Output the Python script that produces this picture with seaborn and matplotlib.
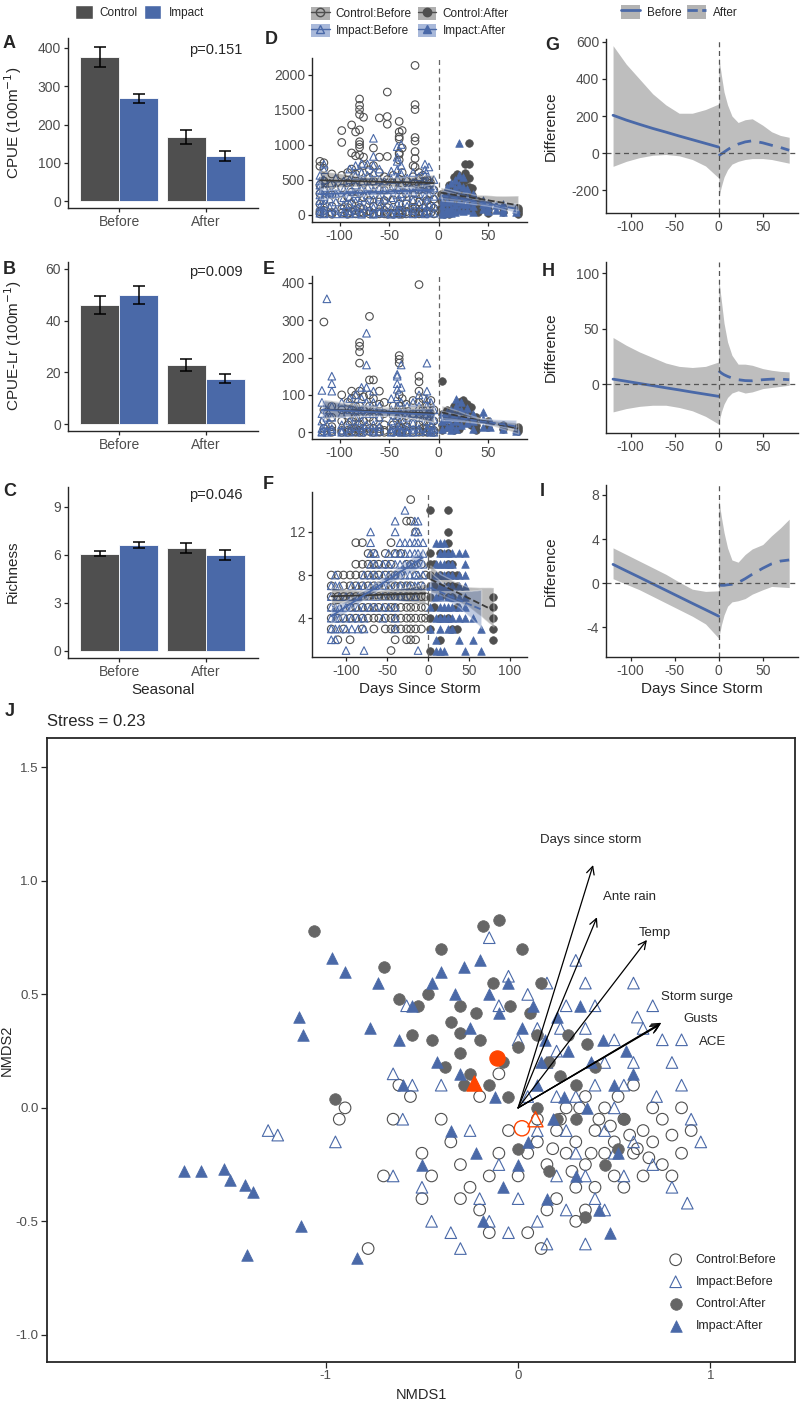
import pandas as pd
import seaborn as sns
import matplotlib.pyplot as plt
from matplotlib.patches import Patch
from matplotlib.lines import Line2D

sns.set_style("ticks")
plt.rcParams['font.family'] = ['Liberation Sans', 'DejaVu Sans']
plt.rcParams['axes.unicode_minus'] = False

GREY = '#4f4f4f'
BLUE = '#4a69a8'
TICK = '#4d4d4d'

# ---- bar panels (A-C): means and standard errors ----
periods = ['Before', 'After']
sites = ['Control', 'Impact']
cpue_mean = {'Control': [376, 168], 'Impact': [268, 118]}
cpue_se = {'Control': [26, 19], 'Impact': [13, 14]}
lr_mean = {'Control': [46, 22.8], 'Impact': [50, 17.6]}
lr_se = {'Control': [3.6, 2.3], 'Impact': [3.4, 1.8]}
rich_mean = {'Control': [6.07, 6.42], 'Impact': [6.63, 5.98]}
rich_se = {'Control': [0.15, 0.31], 'Impact': [0.2, 0.3]}

# ---- scatter panels (D-F): day since storm -> values ----
cb_cpue = {-120: [760, 690, 420, 300, 150, 40, 10], -116: [740, 660, 480, 350, 200, 60, 20],
           -108: [580, 420, 280, 120, 30, 5], -98: [1200, 1030, 560, 380, 200, 80, 20],
           -92: [600, 450, 250, 100, 20, 5], -88: [1280, 880, 650, 320, 150, 40],
           -84: [1180, 840, 580, 400, 220, 60, 10],
           -80: [1650, 1560, 1500, 1430, 1210, 1040, 1000, 960, 850, 600, 300, 100, 30],
           -76: [1390, 820, 700, 450, 250, 80, 20], -70: [640, 520, 380, 200, 50, 10],
           -66: [950, 700, 480, 280, 120, 10], -60: [1380, 820, 600, 350, 180, 40, 10],
           -55: [540, 350, 200, 60, 10], -52: [1750, 1400, 1290, 830, 500, 260, 100, 30, 5],
           -46: [560, 400, 210, 20, 5],
           -40: [1330, 1180, 1110, 1080, 880, 860, 780, 500, 350, 150, 60, 20, 5],
           -37: [1200, 950, 600, 420, 250, 60, 20, 5], -33: [480, 300, 150, 40, 10],
           -26: [700, 540, 380, 210, 80, 20],
           -24: [2130, 1570, 1500, 1100, 1050, 900, 800, 680, 450, 300, 100, 40, 10],
           -20: [600, 520, 350, 180, 40, 10], -16: [560, 420, 260, 90, 20],
           -12: [500, 380, 200, 50, 10], -8: [450, 300, 120, 30], -5: [350, 220, 90, 10]}
ib_cpue = {-120: [560, 480, 420, 350, 280, 200, 120, 60, 20], -116: [720, 640, 500, 380, 260, 150, 50, 10],
           -110: [450, 320, 220, 100, 20], -104: [520, 400, 300, 180, 60, 10],
           -96: [480, 360, 240, 140, 40, 10], -90: [650, 500, 380, 260, 150, 50, 10],
           -84: [700, 560, 420, 300, 180, 60, 20], -78: [730, 600, 480, 360, 240, 120, 20, 5],
           -72: [720, 560, 400, 280, 150, 40], -66: [1090, 830, 700, 600, 480, 350, 220, 100, 20, 5],
           -60: [650, 500, 380, 250, 120, 30], -55: [480, 350, 220, 100, 20],
           -48: [620, 500, 360, 240, 100, 20, 5], -42: [970, 820, 760, 640, 520, 400, 280, 150, 40, 10],
           -38: [1000, 700, 580, 440, 300, 160, 40], -32: [520, 380, 260, 120, 20],
           -26: [600, 460, 320, 200, 60, 10], -20: [540, 420, 300, 150, 30],
           -14: [720, 640, 560, 480, 380, 260, 140, 40, 10], -10: [680, 520, 400, 280, 150, 30],
           -5: [500, 380, 260, 120, 20]}
ca_cpue = {2: [300, 200, 100, 20], 5: [280, 150, 60, 10], 10: [420, 350, 200, 80, 10],
           15: [530, 400, 300, 150, 50], 18: [580, 480, 350, 200, 60], 22: [520, 420, 300, 200, 100],
           26: [720, 600, 500, 380, 250, 80], 30: [1020, 720, 520, 400, 250, 120],
           33: [380, 280, 180, 80], 40: [200, 120, 40], 50: [150, 80, 20], 65: [100, 40],
           80: [90, 60, 30, 10]}
ia_cpue = {3: [280, 200, 120, 50, 10], 8: [400, 300, 180, 80, 20], 12: [450, 320, 200, 100, 20],
           16: [500, 380, 260, 140, 40], 20: [1020, 560, 420, 300, 180, 60], 24: [540, 400, 280, 150, 50],
           28: [360, 250, 150, 60], 35: [300, 200, 120, 30], 45: [210, 150, 80], 50: [170, 110, 50],
           58: [130, 70], 65: [145, 80, 30], 78: [75, 40]}

cb_lr = {-116: [295, 60, 30, 10, 2], -108: [70, 40, 15, 5, 0], -98: [100, 60, 30, 5, 0],
         -92: [80, 45, 20, 5, 0], -88: [110, 90, 60, 30, 10, 2], -84: [100, 70, 40, 10, 2, 0],
         -80: [240, 230, 215, 185, 110, 70, 40, 20, 5, 0], -76: [95, 60, 30, 10, 0],
         -70: [310, 140, 100, 70, 40, 10, 2], -66: [140, 90, 60, 30, 10, 0],
         -60: [110, 75, 40, 10, 2, 0], -55: [80, 50, 20, 5, 0], -46: [70, 45, 20, 5, 0],
         -40: [205, 195, 185, 100, 70, 40, 15, 5, 0], -37: [90, 60, 30, 10, 2, 0],
         -33: [75, 45, 15, 5, 0], -26: [85, 50, 25, 5, 0],
         -20: [395, 150, 135, 110, 80, 50, 20, 5, 0], -16: [90, 60, 30, 10, 0],
         -12: [70, 40, 10, 2, 0], -8: [85, 50, 20, 5], -5: [60, 30, 5, 0]}
ib_lr = {-118: [112, 80, 50, 30, 10, 2, 0], -113: [357, 60, 40, 20, 5, 0],
         -108: [150, 130, 110, 70, 40, 10, 2], -98: [80, 50, 20, 5, 0], -90: [90, 60, 30, 10, 0],
         -84: [100, 70, 40, 15, 3], -78: [120, 90, 60, 30, 10, 0],
         -73: [265, 180, 120, 80, 50, 20, 5], -66: [110, 80, 50, 20, 5, 0], -60: [70, 40, 15, 3],
         -48: [90, 60, 30, 10, 2, 0], -42: [155, 150, 130, 115, 95, 70, 45, 20, 8, 2],
         -38: [180, 120, 80, 50, 20, 5, 0], -32: [70, 40, 15, 3, 0], -26: [80, 50, 25, 8, 0],
         -20: [100, 70, 40, 10, 2], -12: [185, 110, 90, 70, 50, 30, 10, 3],
         -8: [80, 50, 20, 5, 0], -5: [60, 35, 10, 0]}
ca_lr = {3: [137, 50, 20, 5], 8: [60, 40, 15], 15: [70, 45, 20, 5], 20: [80, 60, 35, 10],
         24: [85, 70, 50, 25], 28: [75, 55, 30], 32: [67, 45, 20], 38: [40, 20, 5],
         50: [30, 15], 65: [20, 8], 80: [15, 8, 3]}
ia_lr = {3: [50, 30, 10], 8: [55, 35, 15], 12: [60, 40, 20, 5], 17: [90, 70, 50, 30, 10],
         22: [80, 60, 40, 20], 28: [65, 45, 25], 35: [50, 30, 10], 45: [55, 35, 15],
         52: [30, 15], 65: [20, 8], 78: [10, 4]}

cb_rich = {-118: [8, 7, 6, 5, 4, 3], -110: [8, 6, 5, 4, 2], -103: [8, 7, 6, 4, 3],
           -95: [8, 7, 6, 5, 4, 2], -88: [11, 9, 8, 7, 6, 5, 4], -80: [11, 9, 8, 7, 6, 5, 4, 3],
           -73: [10, 9, 8, 7, 6, 5, 4], -66: [10, 9, 8, 7, 6, 5, 4, 3], -60: [9, 8, 7, 6, 5, 4],
           -52: [10, 9, 8, 7, 6, 5, 4, 3], -45: [11, 9, 8, 7, 6, 5, 4, 3, 1],
           -40: [10, 8, 7, 6, 5, 4, 3, 2], -33: [10, 8, 7, 6, 5, 4, 3],
           -26: [13, 9, 7, 6, 5, 4, 3, 2], -21: [15, 13, 9, 7, 6, 5, 4, 3, 2],
           -15: [12, 8, 6, 5, 4, 3, 2], -8: [9, 7, 6, 5, 4, 3], -3: [8, 6, 5, 4]}
ib_rich = {-118: [7, 6, 5, 4, 3, 2], -113: [8, 7, 5, 4, 3, 2], -108: [7, 6, 5, 4, 3],
           -100: [6, 5, 4, 3, 1], -93: [7, 6, 5, 4, 3], -85: [7, 6, 5, 4, 3],
           -78: [8, 7, 6, 5, 4, 3, 1], -70: [12, 11, 10, 9, 8, 7, 6, 5], -64: [10, 9, 8, 7, 6, 5],
           -55: [9, 8, 7, 6, 5, 4], -48: [10, 9, 8, 7, 6, 5], -40: [13, 12, 10, 9, 8, 7, 6, 5, 4, 3],
           -34: [11, 10, 9, 8, 7, 6], -28: [14, 11, 10, 9, 8, 7, 6], -22: [11, 10, 9, 8, 7],
           -16: [13, 12, 11, 10, 9, 8, 7, 6], -12: [13, 12, 11, 10, 9, 8, 7, 1],
           -6: [11, 10, 9, 8, 7]}
ca_rich = {3: [14, 10, 9, 8, 7, 6, 4, 3, 1], 8: [9, 7, 5], 15: [10, 8, 6, 4, 2],
           25: [14, 12, 11, 10, 9, 8, 7, 6, 4], 30: [9, 8, 7, 6, 3], 35: [8, 7, 5, 3],
           80: [6, 5, 4, 3, 2]}
ia_rich = {3: [7, 5, 3], 10: [11, 9, 8, 6, 4, 2, 1], 15: [11, 10, 9, 8, 7, 6, 5, 4, 3, 1],
           20: [11, 10, 9, 8, 7, 5, 4, 1], 25: [10, 9, 8, 7, 6, 5, 4, 3],
           30: [10, 9, 8, 7, 6, 5, 4, 3], 38: [10, 8, 7, 6, 5, 4, 2],
           45: [10, 9, 8, 7, 6, 5, 4, 1], 55: [4, 2], 65: [3, 1]}

# ---- difference panels (G-I): fitted difference with confidence band ----
bef_days = [-120, -105, -90, -75, -60, -45, -30, -15, 0]
aft_days = [0, 3, 6, 10, 15, 22, 30, 38, 50, 60, 70, 80]
g_bef_fit = [204, 178, 155, 133, 113, 92, 72, 52, 32]
g_bef_lo = [-72, -45, -25, -12, -8, -15, -35, -70, -135]
g_bef_hi = [580, 480, 400, 320, 260, 215, 215, 235, 265]
g_aft_fit = [-15, -5, 5, 18, 33, 48, 60, 66, 55, 42, 30, 15]
g_aft_lo = [-240, -180, -130, -90, -60, -45, -35, -30, -30, -35, -45, -55]
g_aft_hi = [520, 420, 330, 260, 200, 165, 180, 185, 150, 115, 95, 85]
h_bef_fit = [4.5, 2.6, 0.6, -1.3, -3.3, -5.2, -7.2, -9.1, -11]
h_bef_lo = [-25, -22, -20, -19, -19, -21, -24, -29, -36]
h_bef_hi = [42, 35, 29, 24, 19, 16, 15, 16, 20]
h_aft_fit = [12, 10, 8.5, 7, 5.5, 4, 3.2, 3, 4, 4.5, 4.5, 4]
h_aft_lo = [-35, -25, -18, -12, -8, -6, -8, -7, -4, -3, -2, -1]
h_aft_hi = [95, 75, 55, 38, 26, 18, 18, 17, 14, 12.5, 11.5, 11]
i_bef_fit = [1.7, 1.11, 0.53, -0.06, -0.65, -1.24, -1.83, -2.41, -3.0]
i_bef_lo = [0.4, -0.1, -0.6, -1.2, -1.8, -2.4, -3.0, -3.7, -5.0]
i_bef_hi = [3.2, 2.6, 2.0, 1.4, 0.8, 0.1, -0.55, -0.75, -0.7]
i_aft_fit = [-0.15, -0.2, -0.2, -0.15, -0.1, 0.05, 0.4, 0.8, 1.35, 1.75, 2.0, 2.1]
i_aft_lo = [-5.0, -3.8, -2.9, -2.1, -1.7, -1.6, -1.4, -1.0, -0.6, -0.3, -0.35, -0.4]
i_aft_hi = [7.6, 6.0, 4.6, 3.2, 2.1, 1.9, 2.6, 3.1, 3.5, 4.3, 5.0, 5.8]

# ---- NMDS (J) ----
cb_j = [(-0.93, -0.05), (-0.9, 0.0), (-0.78, -0.62), (-0.62, 0.1), (-0.56, 0.05), (-0.5, -0.2),
        (-0.45, -0.3), (-0.5, -0.4), (-0.35, -0.15), (-0.4, -0.05), (-0.3, -0.25), (-0.25, -0.35),
        (-0.2, -0.45), (-0.15, -0.3), (-0.1, -0.2), (-0.05, -0.1), (0.0, -0.3), (0.05, -0.2),
        (0.1, -0.15), (0.15, -0.25), (0.2, -0.1), (0.25, -0.2), (0.3, -0.15), (0.35, -0.25),
        (0.4, -0.1), (0.45, -0.2), (0.5, -0.15), (0.55, -0.05), (0.6, -0.2), (0.65, -0.1),
        (0.7, -0.15), (0.75, -0.05), (0.8, -0.12), (0.85, -0.2), (0.9, -0.1), (0.3, -0.35),
        (0.2, -0.4), (0.4, -0.35), (0.1, -0.05), (0.25, 0.0), (0.35, 0.05), (0.45, 0.0),
        (0.5, -0.3), (0.15, -0.45), (0.05, -0.55), (0.3, -0.5), (-0.2, 0.05), (-0.1, 0.15),
        (0.6, 0.1), (0.55, -0.35), (0.65, -0.3), (0.7, 0.0), (0.75, -0.25), (0.8, -0.3),
        (0.62, -0.18), (0.48, -0.08), (0.38, -0.2), (0.28, -0.28), (0.22, -0.05), (0.42, -0.05),
        (0.18, -0.18), (-0.3, -0.4), (-0.15, -0.55), (0.12, -0.62), (0.35, -0.45), (0.58, -0.12),
        (0.32, 0.0), (-0.65, -0.05), (-0.7, -0.3), (0.68, -0.22), (0.52, 0.05), (0.85, 0.0)]
ib_j = [(-1.3, -0.1), (-1.25, -0.12), (-0.95, -0.15), (-0.65, -0.3), (-0.6, -0.05), (-0.55, 0.1),
        (-0.5, -0.35), (-0.45, -0.5), (-0.35, -0.55), (-0.3, -0.62), (-0.2, -0.4), (-0.15, -0.5),
        (-0.05, -0.55), (0.0, -0.4), (0.1, -0.5), (0.15, -0.6), (0.2, -0.3), (0.25, -0.45),
        (0.3, -0.2), (0.35, -0.3), (0.4, -0.4), (0.45, -0.1), (0.5, 0.0), (0.55, 0.1), (0.6, 0.2),
        (0.65, 0.35), (0.7, 0.45), (0.75, 0.3), (0.8, 0.2), (0.85, 0.1), (0.9, -0.05),
        (0.95, -0.15), (0.5, 0.3), (0.45, 0.2), (0.4, 0.45), (0.35, 0.55), (0.3, 0.65),
        (0.35, 0.35), (0.25, 0.45), (0.2, 0.25), (0.1, 0.35), (0.0, 0.3), (-0.1, 0.45),
        (-0.15, 0.75), (-0.05, 0.58), (0.05, 0.5), (0.15, 0.2), (0.2, 0.05), (0.1, -0.1),
        (0.3, 0.05), (0.4, 0.1), (0.5, -0.2), (0.6, -0.15), (0.55, -0.3), (0.45, -0.45),
        (0.35, -0.6), (-0.1, -0.25), (-0.25, -0.1), (-0.4, 0.1), (0.05, 0.05), (0.25, -0.1),
        (0.62, 0.4), (0.72, 0.05), (0.8, -0.35), (0.88, -0.42), (0.7, -0.25), (0.85, 0.3),
        (0.6, 0.55), (0.22, 0.35), (0.15, 0.55), (-0.65, 0.15), (-0.58, 0.45)]
ca_j = [(-1.06, 0.78), (-0.95, 0.04), (-0.7, 0.62), (-0.62, 0.48), (-0.55, 0.32), (-0.47, 0.5),
        (-0.4, 0.7), (-0.35, 0.38), (-0.3, 0.33), (-0.18, 0.8), (-0.13, 0.55), (-0.1, 0.83),
        (-0.04, 0.45), (0.02, 0.7), (0.06, 0.42), (-0.3, 0.24), (-0.25, 0.15), (-0.38, 0.18),
        (-0.45, 0.3), (-0.2, 0.3), (-0.08, 0.2), (0.0, 0.27), (0.1, 0.32), (0.16, 0.2),
        (0.22, 0.14), (0.3, 0.1), (0.4, 0.18), (0.26, 0.32), (-0.15, 0.1), (0.1, 0.0),
        (0.3, -0.05), (0.45, -0.25), (0.52, -0.18), (0.35, -0.48), (0.2, -0.05), (-0.05, 0.05),
        (0.16, -0.28), (0.0, -0.18), (-0.3, 0.45), (-0.52, 0.45), (-0.22, 0.42), (0.12, 0.55),
        (-0.28, 0.1), (0.36, 0.28), (0.55, -0.05)]
ia_j = [(-1.74, -0.28), (-1.65, -0.28), (-1.53, -0.27), (-1.5, -0.32), (-1.42, -0.34),
        (-1.38, -0.37), (-1.41, -0.65), (-1.13, -0.52), (-0.84, -0.66), (-1.14, 0.4), (-1.12, 0.32),
        (-0.97, 0.66), (-0.9, 0.6), (-0.73, 0.55), (-0.77, 0.35), (-0.62, 0.3), (-0.55, 0.45),
        (-0.45, 0.55), (-0.4, 0.6), (-0.33, 0.5), (-0.28, 0.62), (-0.2, 0.65), (-0.15, 0.5),
        (-0.1, 0.42), (-0.05, 0.55), (0.02, 0.35), (0.08, 0.45), (0.14, 0.3), (0.2, 0.4),
        (0.26, 0.25), (0.32, 0.45), (0.38, 0.2), (0.44, 0.3), (0.5, 0.1), (0.56, 0.25),
        (-0.6, 0.1), (-0.5, -0.25), (-0.35, -0.1), (-0.22, -0.2), (-0.08, -0.35), (0.05, -0.15),
        (0.18, -0.05), (0.3, -0.3), (0.42, -0.45), (0.48, -0.55), (-0.3, 0.15), (-0.12, 0.05),
        (0.1, 0.1), (0.24, 0.05), (0.36, 0.0), (0.52, -0.2), (0.6, 0.15), (-0.42, 0.2),
        (-0.18, -0.5), (0.0, -0.25), (0.15, -0.4), (-0.25, 0.35), (0.12, 0.2)]
centroids = {'Control:Before': (0.02, -0.09), 'Impact:Before': (0.09, -0.05),
             'Control:After': (-0.11, 0.22), 'Impact:After': (-0.23, 0.11)}
env_names = ['Days since storm', 'Ante rain', 'Temp', 'Storm surge', 'Gusts', 'ACE']
env_tips = [(0.39, 1.07), (0.41, 0.84), (0.67, 0.74), (0.74, 0.37), (0.735, 0.365), (0.745, 0.375)]
env_labels = [(0.38, 1.18), (0.58, 0.93), (0.71, 0.77), (0.93, 0.49), (0.95, 0.39), (1.01, 0.29)]

W, H = 800, 1402
fig = plt.figure(figsize=(8, 14.02), dpi=100)


def box(l, t, r, b):
    return fig.add_axes([l / W, 1 - b / H, (r - l) / W, (b - t) / H])


def style(ax):
    sns.despine(ax=ax)
    for s in ['left', 'bottom']:
        ax.spines[s].set_linewidth(1.0)
    ax.tick_params(labelsize=10, labelcolor=TICK, length=3, width=0.9, pad=2)
    ax.set_xlabel('')
    ax.set_ylabel('')


def bar_panel(ax, means, ses, ylim, yticks, ptxt, py):
    df = pd.DataFrame({'period': periods * 2, 'site': ['Control'] * 2 + ['Impact'] * 2,
                       'mean': means['Control'] + means['Impact'],
                       'se': ses['Control'] + ses['Impact']})
    sns.barplot(data=df, x='period', y='mean', hue='site', order=periods, hue_order=sites,
                palette=[GREY, BLUE], width=0.9, errorbar=None, legend=False,
                saturation=1, edgecolor='white', linewidth=0.6, ax=ax)
    for cont, site in zip(ax.containers, sites):
        sub = df[df.site == site].set_index('period')
        for bar in cont:
            xc = bar.get_x() + bar.get_width() / 2
            p = periods[int(round(xc))]
            ax.errorbar(xc, sub.loc[p, 'mean'], yerr=sub.loc[p, 'se'], fmt='none',
                        ecolor='black', elinewidth=1.1, capsize=4, capthick=1.1)
    ax.set_xlim(-0.59, 1.6)
    ax.set_ylim(*ylim)
    ax.set_yticks(yticks)
    ax.text(1.42, py, ptxt, ha='right', va='center', fontsize=10.5)
    style(ax)


def frame(d):
    rows = [(k, v) for k, vals in d.items() for v in vals]
    return pd.DataFrame(rows, columns=['day', 'val'])


groups = [('Control:Before', 'o', GREY, False, '-'), ('Impact:Before', '^', BLUE, False, '-'),
          ('Control:After', 'o', GREY, True, '--'), ('Impact:After', '^', BLUE, True, '--')]


def scatter_panel(ax, datasets, xlim, ylim, xticks, yticks):
    for (name, mk, col, filled, ls), d in zip(groups, datasets):
        df = frame(d)
        if filled:
            sns.scatterplot(data=df, x='day', y='val', marker=mk, color=col, s=30,
                            edgecolor=col, linewidth=0.5, ax=ax)
        else:
            sns.scatterplot(data=df, x='day', y='val', marker=mk, color=col, s=30,
                            facecolor='none', edgecolor=col, linewidth=0.8, ax=ax)
    for (name, mk, col, filled, ls), d in zip(groups, datasets):
        df = frame(d)
        lc = '#3a3a3a' if col == GREY else BLUE
        sns.regplot(data=df, x='day', y='val', scatter=False, color=lc, ci=95, n_boot=300,
                    seed=3, line_kws=dict(lw=1.3, ls=ls), ax=ax)
        ax.collections[-1].set_alpha(0.35)
    ax.axvline(0, color='#666666', lw=0.9, ls=(0, (4, 3)))
    ax.set_xlim(*xlim)
    ax.set_ylim(*ylim)
    ax.set_xticks(xticks)
    ax.set_yticks(yticks)
    style(ax)


def diff_panel(ax, bef, aft, ylim, yticks):
    for days, (fit, lo, hi), ls in [(bef_days, bef, '-'), (aft_days, aft, (0, (5, 3)))]:
        df = pd.DataFrame({'day': days, 'fit': fit, 'lo': lo, 'hi': hi})
        ax.fill_between(df['day'], df['lo'], df['hi'], color='#bebebe', lw=0)
        sns.lineplot(data=df, x='day', y='fit', color=BLUE, lw=2, linestyle=ls, ax=ax)
    ax.axhline(0, color='#555555', lw=0.9, ls=(0, (4, 3)))
    ax.axvline(0, color='#555555', lw=0.9, ls=(0, (4, 3)))
    ax.set_xlim(-128, 90)
    ax.set_ylim(*ylim)
    ax.set_xticks([-100, -50, 0, 50])
    ax.set_yticks(yticks)
    style(ax)


# A-C
axA = box(68, 38, 258, 208)
bar_panel(axA, cpue_mean, cpue_se, (-18, 426), [0, 100, 200, 300, 400], 'p=0.151', 395)
axB = box(68, 262, 258, 431)
bar_panel(axB, lr_mean, lr_se, (-2.7, 62.7), [0, 20, 40, 60], 'p=0.009', 59)
axC = box(68, 487, 258, 658)
bar_panel(axC, rich_mean, rich_se, (-0.45, 10.25), [0, 3, 6, 9], 'p=0.046', 9.75)
axC.set_xlabel('Seasonal', fontsize=11, labelpad=3)

# D-F
axD = box(312, 58, 527, 222)
scatter_panel(axD, [cb_cpue, ib_cpue, ca_cpue, ia_cpue], (-128, 89), (-106, 2236),
              [-100, -50, 0, 50], [0, 500, 1000, 1500, 2000])
axE = box(312, 276, 527, 439)
scatter_panel(axE, [cb_lr, ib_lr, ca_lr, ia_lr], (-128, 89), (-18, 418),
              [-100, -50, 0, 50], [0, 100, 200, 300, 400])
axF = box(312, 492, 527, 657)
scatter_panel(axF, [cb_rich, ib_rich, ca_rich, ia_rich], (-141.5, 121), (0.4, 15.7),
              [-100, -50, 0, 50, 100], [4, 8, 12])
axF.set_xlabel('Days Since Storm', fontsize=11, labelpad=3)

# G-I
axG = box(606, 39, 798, 213)
diff_panel(axG, (g_bef_fit, g_bef_lo, g_bef_hi), (g_aft_fit, g_aft_lo, g_aft_hi),
           (-324, 616), [-200, 0, 200, 400, 600])
axH = box(606, 262, 798, 433)
diff_panel(axH, (h_bef_fit, h_bef_lo, h_bef_hi), (h_aft_fit, h_aft_lo, h_aft_hi),
           (-44, 110), [0, 50, 100])
axI = box(606, 485, 798, 657)
diff_panel(axI, (i_bef_fit, i_bef_lo, i_bef_hi), (i_aft_fit, i_aft_lo, i_aft_hi),
           (-6.7, 8.9), [-4, 0, 4, 8])
axI.set_xlabel('Days Since Storm', fontsize=11, labelpad=3)

# y labels and panel letters
for txt, x, y in [('CPUE (100m$^{-1}$)', 13, 123), ('CPUE-Lr (100m$^{-1}$)', 13, 346),
                  ('Richness', 13, 572), ('Difference', 551, 126), ('Difference', 551, 347),
                  ('Difference', 551, 571)]:
    fig.text(x / W, 1 - y / H, txt, rotation=90, ha='center', va='center', fontsize=11)
for txt, x, y in [('A', 3, 44), ('B', 3, 270), ('C', 3, 492), ('D', 265, 40), ('E', 263, 269),
                  ('F', 263, 484), ('G', 545, 45), ('H', 542, 271), ('I', 540, 491), ('J', 5, 712)]:
    fig.text(x / W, 1 - y / H, txt, ha='left', va='center', fontsize=13, fontweight='bold')

# top legends
fig.legend(handles=[Patch(fc=GREY), Patch(fc=BLUE)], labels=sites, loc='center left',
           bbox_to_anchor=(69 / W, 1 - 12 / H), ncol=2, frameon=False, fontsize=8.5,
           handlelength=1.5, handleheight=1.5, handletextpad=0.6, columnspacing=0.5, borderpad=0)
lg_handles = []
for name, mk, col, filled, ls in groups:
    bg = '#b0b0b0' if col == GREY else '#a9b9da'
    ln = Line2D([], [], color=col, marker=mk, ms=6, lw=1,
                mfc=col if filled else 'none', mec=col)
    lg_handles.append((Patch(fc=bg, ec='none'), ln))
fig.legend(handles=lg_handles, labels=[g[0] for g in groups], loc='upper left',
           bbox_to_anchor=(305 / W, 1 - 1 / H), ncol=2, frameon=False, fontsize=8.5,
           handlelength=1.6, handleheight=1.3, handletextpad=0.5, columnspacing=0.5,
           labelspacing=0.3, borderpad=0)
fig.legend(handles=[(Patch(fc='#b3b3b3', ec='none'), Line2D([], [], color=BLUE, lw=2)),
                    (Patch(fc='#b3b3b3', ec='none'), Line2D([], [], color=BLUE, lw=2, ls='--'))],
           labels=['Before', 'After'], loc='center left', bbox_to_anchor=(615 / W, 1 - 12 / H),
           ncol=2, frameon=False, fontsize=8.5, handlelength=1.6, handleheight=1.5,
           handletextpad=0.6, columnspacing=0.5, borderpad=0)

# J
axJ = box(47, 738, 795, 1362)
jsets = [('Control:Before', cb_j, 'o', GREY, False), ('Impact:Before', ib_j, '^', BLUE, False),
         ('Control:After', ca_j, 'o', '#666666', True), ('Impact:After', ia_j, '^', BLUE, True)]
for name, pts, mk, col, filled in jsets:
    df = pd.DataFrame(pts, columns=['NMDS1', 'NMDS2'])
    if filled:
        sns.scatterplot(data=df, x='NMDS1', y='NMDS2', marker=mk, color=col, s=70,
                        edgecolor=col, linewidth=0.5, ax=axJ, label=name)
    else:
        sns.scatterplot(data=df, x='NMDS1', y='NMDS2', marker=mk, color=col, s=70,
                        facecolor='none', edgecolor=col, linewidth=0.8, ax=axJ, label=name)
for name, pts, mk, col, filled in jsets:
    cx, cy = centroids[name]
    cdf = pd.DataFrame({'NMDS1': [cx], 'NMDS2': [cy]})
    if filled:
        sns.scatterplot(data=cdf, x='NMDS1', y='NMDS2', marker=mk, color='#ff4500', s=120,
                        edgecolor='#ff4500', ax=axJ)
    else:
        sns.scatterplot(data=cdf, x='NMDS1', y='NMDS2', marker=mk, color='#ff4500', s=120,
                        facecolor='none', edgecolor='#ff4500', linewidth=1.0, ax=axJ)
for name, tip, lab in zip(env_names, env_tips, env_labels):
    axJ.annotate('', xy=tip, xytext=(0, 0),
                 arrowprops=dict(arrowstyle='->', lw=0.9, color='black', shrinkA=0, shrinkB=0,
                                 mutation_scale=14))
    axJ.text(lab[0], lab[1], name, ha='center', va='center', fontsize=9.5)
axJ.set_xlim(-2.45, 1.44)
axJ.set_ylim(-1.12, 1.63)
axJ.set_xticks([-1, 0, 1])
axJ.set_yticks([-1.0, -0.5, 0.0, 0.5, 1.0, 1.5])
axJ.set_yticklabels(['-1.0', '-0.5', '0.0', '0.5', '1.0', '1.5'])
for s in axJ.spines.values():
    s.set_linewidth(1.3)
axJ.tick_params(labelsize=9.5, labelcolor=TICK, length=4, width=0.9, pad=2)
axJ.set_xlabel('NMDS1', fontsize=10.5)
axJ.set_ylabel('NMDS2', fontsize=10.5)
axJ.yaxis.set_label_coords(-0.045, 0.5)
axJ.legend(loc='lower right', bbox_to_anchor=(0.99, 0.03), frameon=False, fontsize=9,
           handletextpad=0.6, labelspacing=0.8, markerscale=1.0)
fig.text(47 / W, 1 - 722 / H, 'Stress = 0.23', ha='left', va='center', fontsize=12)

fig.savefig('out.png', dpi=100)
